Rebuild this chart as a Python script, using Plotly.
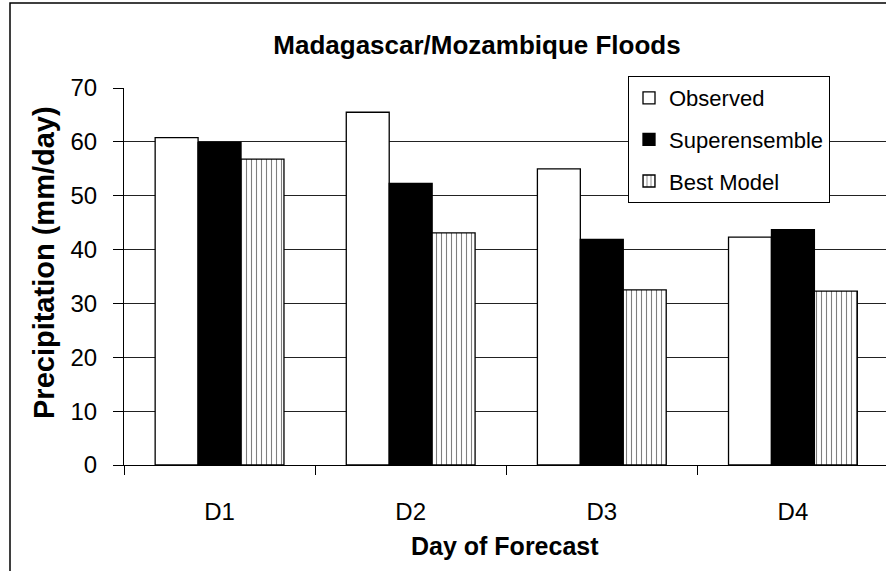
import plotly.graph_objects as go

categories = ["D1", "D2", "D3", "D4"]
observed = [60.8, 65.5, 55.0, 42.3]
superensemble = [59.9, 52.3, 41.9, 43.7]
best_model = [56.8, 43.1, 32.5, 32.3]
y_ticks = [0, 10, 20, 30, 40, 50, 60, 70]

W, H = 886, 571
L, R, T, B = 124, 0, 88, 106
PW, PH = W - L - R, H - T - B

def px_x(x):
    return (x - L) / PW

def px_y(y):
    return (H - B - y) / PH

FONT = "Liberation Sans, Arial, sans-serif"
line = dict(color="black", width=1.3)

fig = go.Figure()
fig.add_trace(go.Bar(name="Observed", x=categories, y=observed,
                     marker=dict(color="white", line=line), legendgroup="a"))
fig.add_trace(go.Bar(name="Superensemble", x=categories, y=superensemble,
                     marker=dict(color="black", line=line), legendgroup="b"))
fig.add_trace(go.Bar(name="Best Model", x=categories, y=best_model,
                     marker=dict(color="white", line=line,
                                 pattern=dict(shape="|", fgcolor="black", bgcolor="white",
                                              size=5, solidity=0.22)),
                     legendgroup="c"))

fig.update_layout(
    width=W, height=H,
    margin=dict(l=L, r=R, t=T, b=B, pad=0),
    paper_bgcolor="white", plot_bgcolor="white",
    barmode="group", bargap=0.326, bargroupgap=0,
    font=dict(family=FONT, color="black"),
    title=dict(text="<b>Madagascar/Mozambique Floods</b>", x=477 / W, y=1 - 45 / H,
               xanchor="center", yanchor="middle", font=dict(size=26, family=FONT)),
    showlegend=True,
    legend=dict(x=px_x(628), y=px_y(76), xanchor="left", yanchor="top",
                bgcolor="white", bordercolor="black", borderwidth=1,
                font=dict(size=22, family=FONT), tracegroupgap=10, itemwidth=30,
                traceorder="grouped"),
    xaxis=dict(range=[-0.5, 3.487], showline=True, linecolor="black", linewidth=1,
               ticks="outside", tickson="boundaries", ticklen=9, tickcolor="black",
               tickfont=dict(size=24), ticklabelstandoff=25, showgrid=False, zeroline=False),
    yaxis=dict(range=[0, 70], tickvals=y_ticks, showline=True, linecolor="black",
               linewidth=1, ticks="outside", ticklen=10, tickcolor="black",
               tickfont=dict(size=24), ticklabelstandoff=11,
               showgrid=True, gridcolor="#222222", gridwidth=1, zeroline=False),
    annotations=[
        dict(text="<b>Precipitation (mm/day)</b>", x=px_x(44), y=px_y(263),
             xref="paper", yref="paper", textangle=-90, showarrow=False,
             xanchor="center", yanchor="middle", font=dict(size=29, family=FONT)),
        dict(text="<b>Day of Forecast</b>", x=px_x(505), y=px_y(546),
             xref="paper", yref="paper", showarrow=False,
             xanchor="center", yanchor="middle", font=dict(size=25, family=FONT)),
    ],
    shapes=[
        dict(type="rect", xref="paper", yref="paper",
             x0=px_x(10), x1=px_x(W + 10), y0=px_y(H + 10), y1=px_y(3),
             line=dict(color="black", width=1.5), fillcolor="rgba(0,0,0,0)", layer="above"),
    ],
)

fig.write_html("out.html", config={"displayModeBar": False},
               post_script="document.body.style.margin='0';document.body.style.overflow='hidden';")
